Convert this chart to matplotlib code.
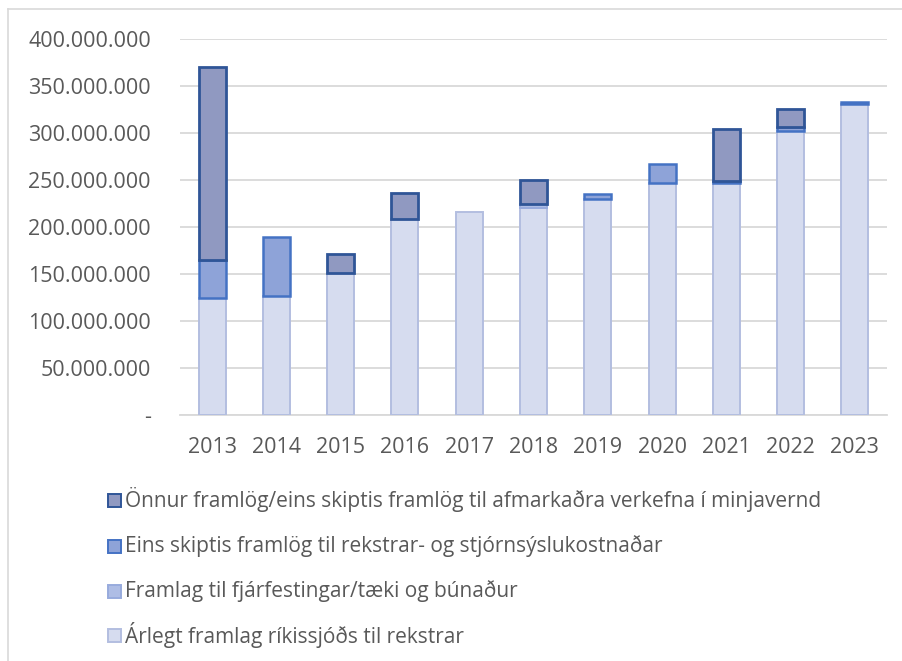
import matplotlib
matplotlib.use("Agg")
import matplotlib.pyplot as plt
from matplotlib.patches import Rectangle
from matplotlib.lines import Line2D
from matplotlib.ticker import FuncFormatter, MultipleLocator

plt.rcParams["font.family"] = ["Open Sans", "DejaVu Sans"]

years = ["2013", "2014", "2015", "2016", "2017", "2018", "2019", "2020", "2021", "2022", "2023"]
# values in millions of ISK
arlegt = [125, 127, 150.7, 209, 215.6, 220, 229.8, 246.5, 246.5, 302.5, 331]
fjarfesting = [0, 0, 0, 0, 0, 5, 0, 0, 0, 0, 0]
eins = [40, 62, 0, 0, 0, 0, 5, 21, 2.5, 3.5, 1.5]
onnur = [205, 0, 20.5, 27.5, 0, 25.5, 0, 0, 55, 20, 0]

labels = [
    "Árlegt framlag ríkissjóðs til rekstrar",
    "Framlag til fjárfestingar/tæki og búnaður",
    "Eins skiptis framlög til rekstrar- og stjórnsýslukostnaðar",
    "Önnur framlög/eins skiptis framlög til afmarkaðra verkefna í minjavernd",
]
FILLS = ["#d6dcef", "#aebde5", "#8ea3d8", "#9099c1"]
EDGES = ["#b3bee0", "#98abdd", "#4472c4", "#2f5597"]
LW = [1.4, 1.4, 1.8, 2.0]
GRID = "#d9d9d9"
TXT = "#595959"

W, H = 902, 661
fig = plt.figure(figsize=(W / 100, H / 100), dpi=100)
ax = fig.add_axes([180 / W, 1 - 415 / H, 707 / W, 376 / H])

series = [arlegt, fjarfesting, eins, onnur]
x = list(range(len(years)))
bottom = [0.0] * len(years)
for vals, fc, ec, lw in zip(series, FILLS, EDGES, LW):
    scaled = [v * 1e6 for v in vals]
    for i, v in enumerate(scaled):
        if v > 0:
            ax.bar(x[i], v, bottom=bottom[i], width=0.42, color=fc,
                   edgecolor=ec, linewidth=lw, zorder=3)
    bottom = [b + v for b, v in zip(bottom, scaled)]

ax.set_xlim(-0.5, len(years) - 0.5)
ax.set_ylim(0, 400e6)
ax.yaxis.set_major_locator(MultipleLocator(50e6))
ax.yaxis.set_major_formatter(FuncFormatter(
    lambda v, _: "-" if v == 0 else f"{int(v):,}".replace(",", ".")))
ax.set_xticks(x)
ax.set_xticklabels(years)
ax.tick_params(length=0, labelsize=15.5, colors=TXT)
ax.tick_params(axis="y", pad=21)
ax.tick_params(axis="x", pad=16)
ax.grid(axis="y", color=GRID, linewidth=1.3, zorder=0)
for s in ["top", "right", "left"]:
    ax.spines[s].set_visible(False)
ax.spines["bottom"].set_color(GRID)
ax.spines["bottom"].set_linewidth(1.3)

# legend drawn by hand, top entry first
rows_y = [500, 546, 591, 635]
for yy, i in zip(rows_y, [3, 2, 1, 0]):
    fig.patches.append(Rectangle(((108) / W, 1 - (yy + 6.5) / H), 13 / W, 13 / H,
                                 transform=fig.transFigure, facecolor=FILLS[i],
                                 edgecolor=EDGES[i], linewidth=1.4))
    fig.text(125 / W, 1 - yy / H, labels[i], fontsize=15, color=TXT,
             va="center", ha="left")

# chart area border (top and left visible)
fig.add_artist(Line2D([8 / W, 1], [1 - 9 / H, 1 - 9 / H], color=GRID,
                      linewidth=1.2, transform=fig.transFigure))
fig.add_artist(Line2D([8 / W, 8 / W], [0, 1 - 9 / H], color=GRID,
                      linewidth=1.2, transform=fig.transFigure))

fig.savefig("out.png", dpi=100)
